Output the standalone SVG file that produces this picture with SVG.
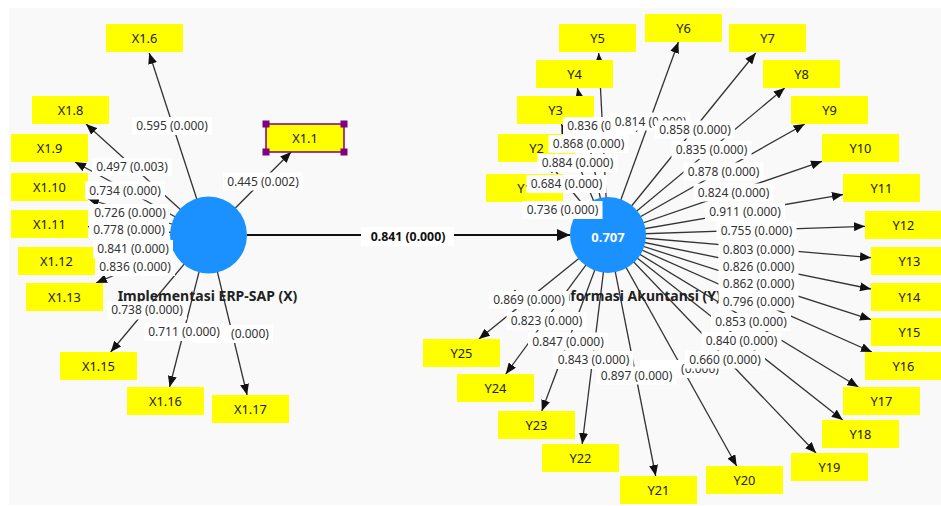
<svg xmlns="http://www.w3.org/2000/svg" width="941" height="506" viewBox="0 0 941 506">
<defs>
<marker id="ah" viewBox="0 0 11 9" refX="11" refY="4.5" markerWidth="11" markerHeight="9" markerUnits="userSpaceOnUse" orient="auto"><path d="M0,0 L11,4.5 L0,9 z" fill="#111"/></marker>
<marker id="ahb" viewBox="0 0 13 12" refX="13" refY="6" markerWidth="13" markerHeight="12" markerUnits="userSpaceOnUse" orient="auto"><path d="M0,0 L13,6 L0,12 z" fill="#111"/></marker>
<style>
.c{stroke:#333;stroke-width:1.3;fill:none;marker-end:url(#ah)}
.m{stroke:#111;stroke-width:2.2;fill:none;marker-end:url(#ahb)}
.n{fill:#ffff00}
.nt{font-family:"Noto Sans","Open Sans",sans-serif;font-size:12.8px;fill:#222;text-anchor:middle}
.lv{fill:#1a91ff}
.ti{font-family:"Noto Sans","Open Sans",sans-serif;font-size:14px;font-weight:bold;fill:#222;text-anchor:middle}
.r2{font-family:"Noto Sans","Open Sans",sans-serif;font-size:13px;font-weight:bold;fill:#fff;text-anchor:middle}
.lb{fill:#fff}
.lt{font-family:"Noto Sans","Open Sans",sans-serif;font-size:12px;fill:#333;text-anchor:middle}
.bt{font-family:"Noto Sans","Open Sans",sans-serif;font-size:12.3px;font-weight:bold;fill:#111;text-anchor:middle}
.h{fill:#800080}
</style>
</defs>
<rect x="0" y="0" width="941" height="506" fill="#fff"/>
<rect x="9" y="8" width="932" height="497" fill="#f9f9f9"/>

<g id="connectors">
<line class="m" x1="247" y1="235" x2="570" y2="235"/>
<line class="c" x1="208.5" y1="235" x2="149.2" y2="53"/>
<line class="c" x1="208.5" y1="235" x2="86" y2="124"/>
<line class="c" x1="208.5" y1="235" x2="75" y2="162"/>
<line class="c" x1="208.5" y1="235" x2="88" y2="199"/>
<line class="c" x1="208.5" y1="235" x2="88" y2="226.7"/>
<line class="c" x1="208.5" y1="235" x2="94" y2="254.5"/>
<line class="c" x1="208.5" y1="235" x2="96" y2="283"/>
<line class="c" x1="208.5" y1="235" x2="110.7" y2="352"/>
<line class="c" x1="208.5" y1="235" x2="169.6" y2="387"/>
<line class="c" x1="208.5" y1="235" x2="247.1" y2="395"/>
<line class="c" x1="208.5" y1="235" x2="291.1" y2="152"/>
<line class="c" x1="608" y1="235" x2="549.4" y2="202"/>
<line class="c" x1="608" y1="235" x2="548" y2="162"/>
<line class="c" x1="608" y1="235" x2="561.4" y2="124"/>
<line class="c" x1="608" y1="235" x2="577.4" y2="88"/>
<line class="c" x1="608" y1="235" x2="598.7" y2="53"/>
<line class="c" x1="608" y1="235" x2="678.4" y2="42"/>
<line class="c" x1="608" y1="235" x2="755.7" y2="53"/>
<line class="c" x1="608" y1="235" x2="784.7" y2="88"/>
<line class="c" x1="608" y1="235" x2="804.7" y2="124"/>
<line class="c" x1="608" y1="235" x2="822" y2="161.3"/>
<line class="c" x1="608" y1="235" x2="843" y2="194.6"/>
<line class="c" x1="608" y1="235" x2="865" y2="226.3"/>
<line class="c" x1="608" y1="235" x2="871" y2="257.7"/>
<line class="c" x1="608" y1="235" x2="871" y2="289"/>
<line class="c" x1="608" y1="235" x2="871" y2="319.6"/>
<line class="c" x1="608" y1="235" x2="871.9" y2="352"/>
<line class="c" x1="608" y1="235" x2="858.4" y2="387"/>
<line class="c" x1="608" y1="235" x2="842.7" y2="420"/>
<line class="c" x1="608" y1="235" x2="816" y2="453"/>
<line class="c" x1="608" y1="235" x2="736.7" y2="466"/>
<line class="c" x1="608" y1="235" x2="655.7" y2="476"/>
<line class="c" x1="608" y1="235" x2="582.2" y2="444"/>
<line class="c" x1="608" y1="235" x2="541.8" y2="411"/>
<line class="c" x1="608" y1="235" x2="505.8" y2="374"/>
<line class="c" x1="608" y1="235" x2="478.9" y2="339"/>
</g>

<g id="X"><circle class="lv" cx="208.5" cy="235" r="38.5"/><text class="ti" x="207.5" y="301">Implementasi ERP-SAP (X)</text></g>
<g id="Y"><circle class="lv" cx="608" cy="235" r="38"/><text class="r2" x="608" y="241.5">0.707</text><text class="ti" x="613" y="300.5">Sistem Informasi Akuntansi (Y)</text></g>

<g id="X1.6"><rect class="n" x="106" y="24" width="77" height="28"/><text class="nt" x="144.5" y="43">X1.6</text></g>
<g id="X1.8"><rect class="n" x="32" y="96" width="77" height="28"/><text class="nt" x="70.5" y="114.5">X1.8</text></g>
<g id="X1.9"><rect class="n" x="11" y="134" width="77" height="28"/><text class="nt" x="49.5" y="152.5">X1.9</text></g>
<g id="X1.10"><rect class="n" x="11" y="173" width="77" height="28"/><text class="nt" x="49.5" y="192">X1.10</text></g>
<g id="X1.11"><rect class="n" x="11" y="210" width="77" height="28"/><text class="nt" x="49.5" y="228.5">X1.11</text></g>
<g id="X1.12"><rect class="n" x="18" y="247" width="77" height="28"/><text class="nt" x="56.5" y="265.5">X1.12</text></g>
<g id="X1.13"><rect class="n" x="26" y="283" width="77" height="28"/><text class="nt" x="64.5" y="301.5">X1.13</text></g>
<g id="X1.15"><rect class="n" x="60" y="352" width="77" height="28"/><text class="nt" x="98.5" y="370.5">X1.15</text></g>
<g id="X1.16"><rect class="n" x="127" y="387" width="77" height="28"/><text class="nt" x="165.5" y="405.5">X1.16</text></g>
<g id="X1.17"><rect class="n" x="212" y="395" width="77" height="28"/><text class="nt" x="250.5" y="413.5">X1.17</text></g>
<g id="X1.1"><rect class="n" x="266" y="124" width="78" height="28" stroke="#800080" stroke-width="1.5"/><text class="nt" x="305" y="142.5">X1.1</text>
<rect class="h" x="262.5" y="120.5" width="7" height="7"/><rect class="h" x="340.5" y="120.5" width="7" height="7"/><rect class="h" x="262.5" y="148.5" width="7" height="7"/><rect class="h" x="340.5" y="148.5" width="7" height="7"/></g>

<g id="Y1"><rect class="n" x="486" y="174" width="77" height="28"/><text class="nt" x="524.5" y="192.5">Y1</text></g>
<g id="Y2"><rect class="n" x="498" y="134" width="77" height="28"/><text class="nt" x="536.5" y="152.5">Y2</text></g>
<g id="Y3"><rect class="n" x="517" y="96" width="77" height="28"/><text class="nt" x="555.5" y="114.5">Y3</text></g>
<g id="Y4"><rect class="n" x="536" y="60" width="77" height="28"/><text class="nt" x="574.5" y="78.5">Y4</text></g>
<g id="Y5"><rect class="n" x="559" y="24" width="77" height="28"/><text class="nt" x="597.5" y="42.5">Y5</text></g>
<g id="Y6"><rect class="n" x="645" y="14" width="77" height="28"/><text class="nt" x="683.5" y="32.5">Y6</text></g>
<g id="Y7"><rect class="n" x="729" y="24" width="77" height="28"/><text class="nt" x="767.5" y="42.5">Y7</text></g>
<g id="Y8"><rect class="n" x="763" y="60" width="77" height="28"/><text class="nt" x="801.5" y="78.5">Y8</text></g>
<g id="Y9"><rect class="n" x="791" y="96" width="77" height="28"/><text class="nt" x="829.5" y="114.5">Y9</text></g>
<g id="Y10"><rect class="n" x="822" y="134" width="77" height="28"/><text class="nt" x="860.5" y="152.5">Y10</text></g>
<g id="Y11"><rect class="n" x="843" y="174" width="77" height="28"/><text class="nt" x="881.5" y="192.5">Y11</text></g>
<g id="Y12"><rect class="n" x="865" y="211" width="77" height="28"/><text class="nt" x="903.5" y="229.5">Y12</text></g>
<g id="Y13"><rect class="n" x="871" y="247" width="77" height="28"/><text class="nt" x="909.5" y="265.5">Y13</text></g>
<g id="Y14"><rect class="n" x="871" y="283" width="77" height="28"/><text class="nt" x="909.5" y="301.5">Y14</text></g>
<g id="Y15"><rect class="n" x="871" y="318" width="77" height="28"/><text class="nt" x="909.5" y="336.5">Y15</text></g>
<g id="Y16"><rect class="n" x="865" y="352" width="77" height="28"/><text class="nt" x="903.5" y="370.5">Y16</text></g>
<g id="Y17"><rect class="n" x="843" y="387" width="77" height="28"/><text class="nt" x="881.5" y="405.5">Y17</text></g>
<g id="Y18"><rect class="n" x="822" y="420" width="77" height="28"/><text class="nt" x="860.5" y="438.5">Y18</text></g>
<g id="Y19"><rect class="n" x="791" y="453" width="77" height="28"/><text class="nt" x="829.5" y="471.5">Y19</text></g>
<g id="Y20"><rect class="n" x="706" y="466" width="77" height="28"/><text class="nt" x="744.5" y="484.5">Y20</text></g>
<g id="Y21"><rect class="n" x="620" y="476" width="77" height="28"/><text class="nt" x="658.5" y="494.5">Y21</text></g>
<g id="Y22"><rect class="n" x="542" y="444" width="77" height="28"/><text class="nt" x="580.5" y="462.5">Y22</text></g>
<g id="Y23"><rect class="n" x="498" y="411" width="77" height="28"/><text class="nt" x="536.5" y="429.5">Y23</text></g>
<g id="Y24"><rect class="n" x="457" y="374" width="77" height="28"/><text class="nt" x="495.5" y="392.5">Y24</text></g>
<g id="Y25"><rect class="n" x="423" y="339" width="77" height="28"/><text class="nt" x="461.5" y="357.5">Y25</text></g>

<g id="connector-labels">
<rect class="lb" x="361" y="227" width="93" height="19"/><text class="bt" x="408" y="240.5">0.841 (0.000)</text>
<rect class="lb" x="132" y="117" width="80" height="18"/><text class="lt" x="172" y="130.2">0.595 (0.000)</text>
<rect class="lb" x="92" y="158" width="80" height="18"/><text class="lt" x="132" y="171.2">0.497 (0.003)</text>
<rect class="lb" x="85" y="181.5" width="80" height="18"/><text class="lt" x="125" y="194.7">0.734 (0.000)</text>
<rect class="lb" x="90" y="204" width="80" height="18"/><text class="lt" x="130" y="217.2">0.726 (0.000)</text>
<rect class="lb" x="89" y="221" width="80" height="18"/><text class="lt" x="129" y="234.2">0.778 (0.000)</text>
<rect class="lb" x="93" y="240" width="80" height="18"/><text class="lt" x="133" y="253.2">0.841 (0.000)</text>
<rect class="lb" x="95" y="258" width="80" height="18"/><text class="lt" x="135" y="271.2">0.836 (0.000)</text>
<rect class="lb" x="193" y="325" width="80" height="18"/><text class="lt" x="250" y="338.2">(0.000)</text>
<rect class="lb" x="144" y="323" width="80" height="18"/><text class="lt" x="184" y="336.2">0.711 (0.000)</text>
<rect class="lb" x="107" y="301.5" width="80" height="18"/><text class="lt" x="147" y="314.2">0.738 (0.000)</text>
<rect class="lb" x="223" y="172.5" width="80" height="18"/><text class="lt" x="263" y="185.7">0.445 (0.002)</text>

<rect class="lb" x="563" y="117" width="80" height="18"/><text class="lt" x="603" y="130.2">0.836 (0.000)</text>
<rect class="lb" x="610.5" y="112.5" width="80" height="18"/><text class="lt" x="650.5" y="125.7">0.814 (0.000)</text>
<rect class="lb" x="655" y="120.5" width="80" height="18"/><text class="lt" x="695" y="133.7">0.858 (0.000)</text>
<rect class="lb" x="548.5" y="135" width="80" height="18"/><text class="lt" x="588.5" y="148.2">0.868 (0.000)</text>
<rect class="lb" x="537.5" y="154" width="80" height="18"/><text class="lt" x="577.5" y="167.2">0.884 (0.000)</text>
<rect class="lb" x="526.5" y="175" width="80" height="18"/><text class="lt" x="566.5" y="188.2">0.684 (0.000)</text>
<rect class="lb" x="522.5" y="201" width="80" height="18"/><text class="lt" x="562.5" y="214.2">0.736 (0.000)</text>
<rect class="lb" x="671.5" y="141" width="80" height="18"/><text class="lt" x="711.5" y="154.2">0.835 (0.000)</text>
<rect class="lb" x="683.5" y="162.5" width="80" height="18"/><text class="lt" x="723.5" y="175.7">0.878 (0.000)</text>
<rect class="lb" x="693.5" y="183.5" width="80" height="18"/><text class="lt" x="733.5" y="196.7">0.824 (0.000)</text>
<rect class="lb" x="705" y="203" width="80" height="18"/><text class="lt" x="745" y="216.2">0.911 (0.000)</text>
<rect class="lb" x="716.5" y="221.5" width="80" height="18"/><text class="lt" x="756.5" y="234.7">0.755 (0.000)</text>
<rect class="lb" x="718.5" y="241" width="80" height="18"/><text class="lt" x="758.5" y="254.2">0.803 (0.000)</text>
<rect class="lb" x="718.5" y="257.5" width="80" height="18"/><text class="lt" x="758.5" y="270.7">0.826 (0.000)</text>
<rect class="lb" x="718.5" y="275" width="80" height="18"/><text class="lt" x="758.5" y="288.2">0.862 (0.000)</text>
<rect class="lb" x="718.5" y="292.5" width="80" height="18"/><text class="lt" x="758.5" y="305.7">0.796 (0.000)</text>
<rect class="lb" x="711" y="313" width="80" height="18"/><text class="lt" x="751" y="326.2">0.853 (0.000)</text>
<rect class="lb" x="701.5" y="332" width="80" height="18"/><text class="lt" x="741.5" y="345.2">0.840 (0.000)</text>
<rect class="lb" x="640" y="360" width="80" height="18"/><text class="lt" x="700" y="373.2">(0.000)</text>
<rect class="lb" x="685" y="350.5" width="80" height="18"/><text class="lt" x="725" y="363.7">0.660 (0.000)</text>
<rect class="lb" x="596.5" y="366.5" width="80" height="18"/><text class="lt" x="636.5" y="379.7">0.897 (0.000)</text>
<rect class="lb" x="553.5" y="351" width="80" height="18"/><text class="lt" x="593.5" y="364.2">0.843 (0.000)</text>
<rect class="lb" x="528" y="332.5" width="80" height="18"/><text class="lt" x="568" y="345.7">0.847 (0.000)</text>
<rect class="lb" x="506.5" y="312" width="80" height="18"/><text class="lt" x="546.5" y="325.2">0.823 (0.000)</text>
<rect class="lb" x="489" y="291" width="80" height="18"/><text class="lt" x="529" y="304.2">0.869 (0.000)</text>
</g>
</svg>
